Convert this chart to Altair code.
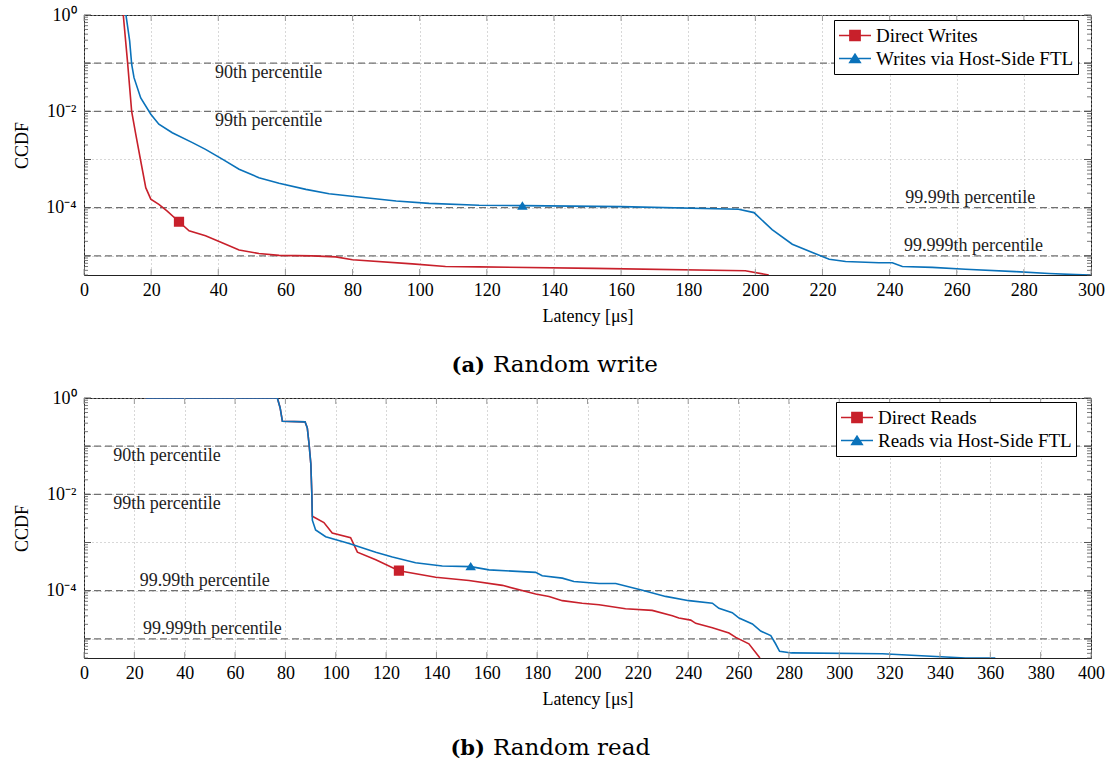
import altair as alt
import pandas as pd

FONT = "Liberation Serif"
CAP_FONT = "DejaVu Serif"
RED = "#C8202B"
BLUE = "#0A72BA"

# ---------------- (a) Random write ----------------
wr_series = ["Direct Writes", "Writes via Host-Side FTL"]
wr_direct_x = [11.7, 13.0, 14.2, 15.4, 16.9, 18.4, 19.9, 22.3, 24.8, 28.3, 31.3, 36.2, 42.2, 46.2,
               52.1, 58.1, 68.0, 75.0, 80.0, 97.8, 107.7, 117.7, 152.0, 197.0, 204.0]
wr_direct_y = [1.0, 0.1, 0.01, 3.4e-3, 9.3e-4, 2.6e-4, 1.5e-4, 1.17e-4, 8.5e-5, 5.1e-5, 3.3e-5, 2.6e-5,
               1.74e-5, 1.32e-5, 1.12e-5, 1.02e-5, 1.0e-5, 9.5e-6, 8.3e-6, 6.8e-6, 6.0e-6, 5.9e-6,
               5.5e-6, 4.9e-6, 4.0e-6]
wr_ftl_x = [12.5, 13.6, 14.2, 14.9, 16.9, 19.9, 22.3, 26.3, 32.3, 36.2, 41.2, 46.2, 52.1, 58.1, 66.1,
            73.0, 83.2, 93.0, 102.8, 117.7, 130.6, 160.0, 195.0, 199.6, 205.0, 211.0, 217.0, 222.0,
            226.9, 236.8, 240.8, 243.8, 252.7, 262.6, 277.5, 287.5, 295.4, 300.0]
wr_ftl_y = [1.0, 0.29, 0.095, 0.05, 0.019, 8.7e-3, 5.4e-3, 3.6e-3, 2.24e-3, 1.62e-3, 1.02e-3, 6.3e-4,
            4.2e-4, 3.2e-4, 2.4e-4, 1.95e-4, 1.62e-4, 1.38e-4, 1.23e-4, 1.12e-4, 1.1e-4, 1.05e-4,
            9.3e-5, 7.9e-5, 3.5e-5, 1.74e-5, 1.17e-5, 8.5e-6, 7.6e-6, 7.2e-6, 7.2e-6, 6.0e-6,
            5.75e-6, 5.25e-6, 4.7e-6, 4.3e-6, 4.07e-6, 4.0e-6]
wr_marker_x = [28.3, 130.6]
wr_marker_y = [5.1e-5, 1.1e-4]
wr_pct_label_x = [55, 55, 264, 265]

# ---------------- (b) Random read ----------------
rd_series = ["Direct Reads", "Reads via Host-Side FTL"]
rd_direct_x = [24.5, 76.8, 77.9, 78.8, 87.8, 88.7, 89.4, 90.1, 90.5, 90.7, 95.3, 98.6, 105.9, 108.6,
               115.9, 125.1, 139.7, 152.9, 166.2, 179.4, 184.7, 190.0, 197.9, 204.6, 215.1, 225.7,
               233.7, 236.3, 241.0, 243.0, 249.6, 256.2, 258.9, 264.1, 268.5]
rd_direct_y = [1.0, 1.0, 0.63, 0.33, 0.32, 0.24, 0.11, 0.043, 0.0102, 3.5e-3, 2.6e-3, 1.58e-3,
               1.26e-3, 6.3e-4, 4.4e-4, 2.6e-4, 1.9e-4, 1.62e-4, 1.29e-4, 8.5e-5, 7.6e-5, 6.2e-5,
               5.5e-5, 5.1e-5, 4.2e-5, 3.9e-5, 3.0e-5, 2.7e-5, 2.45e-5, 2.1e-5, 1.7e-5, 1.32e-5,
               1.07e-5, 7.9e-6, 4.0e-6]
rd_ftl_x = [24.5, 76.8, 77.9, 78.8, 87.8, 88.7, 89.4, 90.1, 90.5, 90.7, 92.0, 96.0, 105.3, 115.9,
            122.5, 131.7, 142.3, 153.6, 160.9, 179.4, 182.0, 190.0, 194.6, 204.6, 211.2, 221.8,
            231.0, 240.3, 249.6, 252.2, 257.5, 260.2, 265.5, 268.8, 272.8, 274.7, 276.3, 281.0,
            317.1, 350.2, 362.0]
rd_ftl_y = [1.0, 1.0, 0.63, 0.33, 0.32, 0.24, 0.11, 0.043, 0.0102, 2.9e-3, 1.82e-3, 1.32e-3, 9.5e-4,
            6.3e-4, 5.0e-4, 3.8e-4, 3.24e-4, 3.16e-4, 2.7e-4, 2.4e-4, 2.04e-4, 1.82e-4, 1.55e-4,
            1.41e-4, 1.41e-4, 1.02e-4, 7.6e-5, 6.2e-5, 5.5e-5, 4.3e-5, 3.5e-5, 2.7e-5, 2.04e-5,
            1.45e-5, 1.17e-5, 7.9e-6, 5.5e-6, 5.1e-6, 4.9e-6, 4.0e-6, 4.0e-6]
rd_marker_x = [125.1, 153.6]
rd_marker_y = [2.6e-4, 3.2e-4]
rd_pct_label_x = [33, 33, 48, 51]

# ---------------- shared ----------------
pct_values = [0.1, 0.01, 1e-4, 1e-5]
pct_labels = ["90th percentile", "99th percentile", "99.99th percentile", "99.999th percentile"]
y_major = [1, 0.1, 0.01, 1e-3, 1e-4, 1e-5]
y_minor = [m * d for d in [0.1, 0.01, 1e-3, 1e-4, 1e-5, 1e-6] for m in range(2, 10) if m * d >= 4e-6]
YMIN = 4e-6
W, H = 1007, 260

SQUARE = "M-1,0H1M-0.32,-0.32H0.32V0.32H-0.32Z"
TRIANGLE = "M-1,0H1M0,-0.27L0.33,0.25H-0.33Z"

YLABEL = ("datum.value == 1 ? '10⁰' : (datum.value == 0.01 ? '10⁻²' : "
          "(datum.value == 0.0001 ? '10⁻⁴' : ''))")


def panel(xmax, series, dx, dy, fx, fy, mx, my, pct_x, tag, caption, lx, ly):
    direct = pd.DataFrame({"x": dx, "y": dy, "order": list(range(len(dx)))})
    ftl = pd.DataFrame({"x": fx, "y": fy, "order": list(range(len(fx)))})
    markers = pd.DataFrame({"x": mx, "y": my, "series": series})
    pct = pd.DataFrame({"y": pct_values, "label": pct_labels, "x": pct_x})
    xticks = list(range(0, xmax + 1, 20))
    xt = pd.DataFrame({"x": xticks})
    ymaj = pd.DataFrame({"y": y_major})
    ymin = pd.DataFrame({"y": y_minor})

    xs = alt.Scale(domain=[0, xmax], nice=False, zero=False)
    ys = alt.Scale(type="log", domain=[YMIN, 1], nice=False)
    cscale = alt.Scale(domain=series, range=[RED, BLUE])
    sscale = alt.Scale(domain=series, range=[SQUARE, TRIANGLE])

    xaxis = alt.Axis(values=xticks, grid=True, gridDash=[1, 3], gridColor="#b0b0b0",
                     ticks=False, domain=False, labelPadding=6, labelFlush=False,
                     title="Latency [μs]", titlePadding=8)
    yaxis = alt.Axis(values=y_major, grid=True, gridDash=[1, 3], gridColor="#b0b0b0",
                     ticks=False, domain=False, labelExpr=YLABEL, labelPadding=8,
                     labelFlush=False, labelOverlap=False, title="CCDF", titlePadding=14)

    X = lambda: alt.X("x:Q", scale=xs, axis=xaxis)
    Y = lambda: alt.Y("y:Q", scale=ys, axis=yaxis)

    leg = alt.Legend(title=None, orient="none", legendX=lx, legendY=ly, direction="vertical",
                     strokeColor="black", fillColor="white", padding=4, labelFont=FONT,
                     labelFontSize=19, labelColor="black", labelLimit=0, symbolSize=1024,
                     symbolStrokeWidth=1.5, labelOffset=4, rowPadding=0, clipHeight=23)

    line_d = alt.Chart(direct).mark_line(strokeWidth=1.6, clip=True, color=RED).encode(
        x=X(), y=Y(), order="order:Q")
    line_f = alt.Chart(ftl).mark_line(strokeWidth=1.6, clip=True, color=BLUE).encode(
        x=X(), y=Y(), order="order:Q")

    pct_rules = alt.Chart(pct).mark_rule(color="#707070", strokeWidth=1.3, strokeDash=[7, 4]).encode(
        y=Y()
    )
    pct_below = alt.Chart(pct).transform_filter("datum.y >= 0.01").mark_text(
        font=FONT, fontSize=18, color="#222", baseline="alphabetic", dy=15
    ).encode(x=X(), y=Y(), text="label:N")
    pct_above = alt.Chart(pct).transform_filter("datum.y < 0.01").mark_text(
        font=FONT, fontSize=18, color="#222", baseline="alphabetic", dy=-5
    ).encode(x=X(), y=Y(), text="label:N")

    pts = alt.Chart(markers).mark_point(filled=True, size=1024, opacity=1).encode(
        x=X(), y=Y(),
        fill=alt.Fill("series:N", scale=cscale, legend=leg),
        stroke=alt.Stroke("series:N", scale=cscale, legend=leg),
        shape=alt.Shape("series:N", scale=sscale, legend=leg),
        strokeWidth=alt.value(0),
    )

    tick_col = "#555555"
    ymaj_l = alt.Chart(ymaj).mark_rule(color=tick_col, strokeWidth=1).encode(
        y=Y(), x=alt.value(0), x2=alt.value(7))
    ymaj_r = alt.Chart(ymaj).mark_rule(color=tick_col, strokeWidth=1).encode(
        y=Y(), x=alt.value(W - 7), x2=alt.value(W))
    ymin_l = alt.Chart(ymin).mark_rule(color=tick_col, strokeWidth=0.8).encode(
        y=Y(), x=alt.value(0), x2=alt.value(4))
    ymin_r = alt.Chart(ymin).mark_rule(color=tick_col, strokeWidth=0.8).encode(
        y=Y(), x=alt.value(W - 4), x2=alt.value(W))
    xt_b = alt.Chart(xt).mark_rule(color="#999999", strokeWidth=1).encode(
        x=X(), y=alt.value(H - 6), y2=alt.value(H))
    xt_t = alt.Chart(xt).mark_rule(color="#999999", strokeWidth=1).encode(
        x=X(), y=alt.value(0), y2=alt.value(6))

    cap_tag = alt.Chart(alt.Data(values=[{}])).mark_text(
        text=tag, font=CAP_FONT, fontWeight="bold", fontSize=21, align="right",
        baseline="alphabetic", color="black"
    ).encode(x=alt.value(401), y=alt.value(357))
    cap_txt = alt.Chart(alt.Data(values=[{}])).mark_text(
        text=caption, font=CAP_FONT, fontSize=23, align="left",
        baseline="alphabetic", color="black"
    ).encode(x=alt.value(409), y=alt.value(357))

    return alt.layer(
        pct_rules, line_d, line_f, pct_below, pct_above, pts,
        ymaj_l, ymaj_r, ymin_l, ymin_r, xt_b, xt_t, cap_tag, cap_txt
    ).properties(width=W, height=H)


pa = panel(300, wr_series, wr_direct_x, wr_direct_y, wr_ftl_x, wr_ftl_y, wr_marker_x, wr_marker_y,
           wr_pct_label_x, "(a)", "Random write", 750, 5)
pb = panel(400, rd_series, rd_direct_x, rd_direct_y, rd_ftl_x, rd_ftl_y, rd_marker_x, rd_marker_y,
           rd_pct_label_x, "(b)", "Random read", 752, 4)

chart = alt.vconcat(pa, pb, spacing=10).resolve_scale(
    fill="independent", stroke="independent", shape="independent"
).resolve_legend(
    fill="independent", stroke="independent", shape="independent"
).properties(
    padding={"left": 13, "top": 5, "right": 5, "bottom": 5},
    background="white",
).configure_view(
    stroke="#222222", strokeWidth=1
).configure_axis(
    labelFont=FONT, titleFont=FONT, labelFontSize=18, titleFontSize=18,
    titleFontWeight="normal", labelColor="black", titleColor="black"
)

chart.save("out.html", embed_options={"renderer": "svg", "actions": False})
